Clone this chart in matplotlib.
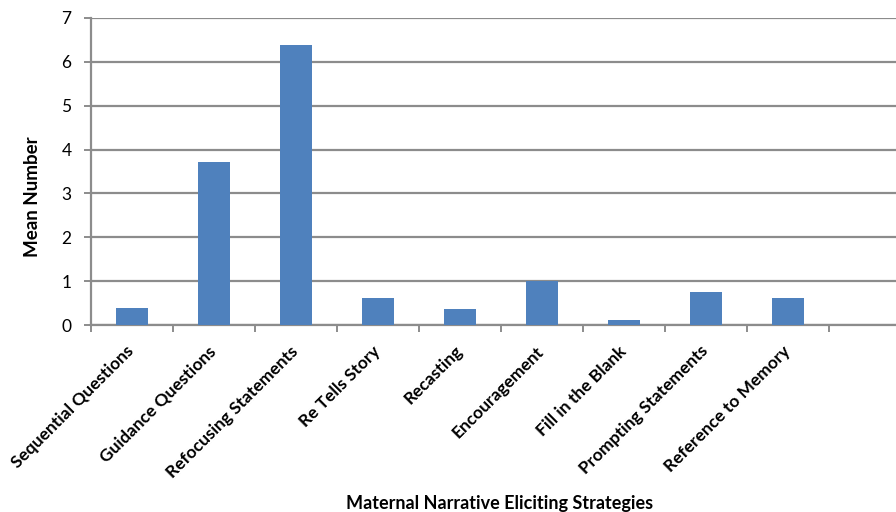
import numpy as np
import matplotlib
matplotlib.use("Agg")
import matplotlib.pyplot as plt
import matplotlib.transforms as mtransforms

categories = ["Sequential Questions", "Guidance Questions", "Refocusing Statements",
              "Re Tells Story", "Recasting", "Encouragement", "Fill in the Blank",
              "Prompting Statements", "Reference to Memory"]
means = [0.38, 3.71, 6.39, 0.62, 0.37, 1.0, 0.11, 0.75, 0.62]

plt.rcParams['font.family'] = ['Lato', 'DejaVu Sans']

fig = plt.figure(figsize=(8.96, 5.12), dpi=100)
ax = fig.add_axes([91/896, 187/512, 820/896, 307/512])

x = np.arange(len(categories))
ax.bar(x, means, width=0.4, color='#4F81BD', zorder=3)

ax.set_xlim(-0.5, 9.5)
ax.set_ylim(0, 7)
ax.set_yticks(range(0, 8))
ax.yaxis.grid(True, color='#8c8c8c', linewidth=1.6, zorder=0)
for s in ['top', 'right']:
    ax.spines[s].set_visible(False)
for s in ['left', 'bottom']:
    ax.spines[s].set_color('#8c8c8c')
    ax.spines[s].set_linewidth(1.6)

# category boundary ticks
ax.set_xticks(np.arange(-0.5, 10, 1), minor=False)
ax.set_xticklabels([])
ax.tick_params(axis='x', which='major', length=5, color='#8c8c8c', width=1.4)
# labels at category centres
ax.set_xticks(x, minor=True)
ax.set_xticklabels(categories, minor=True, rotation=45, ha='right',
                   rotation_mode='anchor', fontsize=12.5, fontweight='bold')
ax.tick_params(axis='x', which='minor', length=0, pad=13)
offset = mtransforms.ScaledTranslation(-6/100, 0, fig.dpi_scale_trans)
for lbl in ax.get_xticklabels(minor=True):
    lbl.set_transform(lbl.get_transform() + offset)

ax.tick_params(axis='y', length=5, color='#8c8c8c', width=1.4, labelsize=12.5, pad=9)

fig.text(33/896, 1 - 197/512, "Mean Number", rotation=90, ha='center', va='center',
         fontsize=13.5, fontweight='bold')
fig.text(500/896, 1 - 503/512, "Maternal Narrative Eliciting Strategies",
         ha='center', va='center', fontsize=13, fontweight='bold')

fig.savefig("out.png", dpi=100)
